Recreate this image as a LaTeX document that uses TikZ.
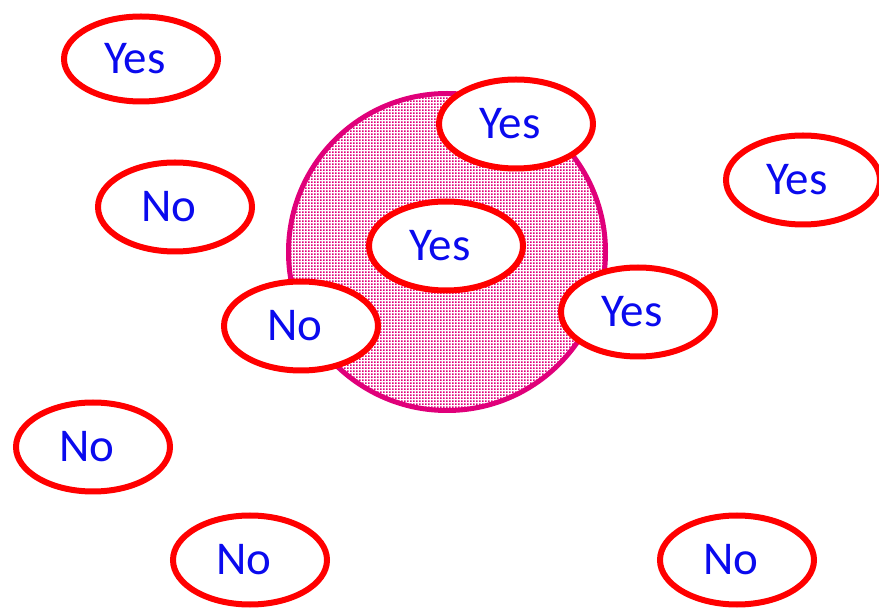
\documentclass[tikz,border=0pt]{standalone}
\usepackage{fontspec}
\setmainfont{Carlito}
\usetikzlibrary{shapes.geometric,patterns}
\definecolor{ringpink}{HTML}{E0007A}
\definecolor{ovalred}{HTML}{FF0000}
\definecolor{txtblue}{HTML}{0A0AEE}
\pgfdeclarepatternformonly{bigdots}{\pgfpointorigin}{\pgfqpoint{3.3pt}{3.3pt}}{\pgfqpoint{3.3pt}{3.3pt}}{%
  \pgfpathrectangle{\pgfpointorigin}{\pgfqpoint{2.1pt}{2.1pt}}\pgfusepath{fill}}
\newcommand{\ovaltxt}[1]{\hspace*{-12pt}#1}
\tikzset{
  oval/.style={ellipse, draw=ovalred, fill=white, line width=6pt,
    minimum width=154pt, minimum height=89pt, inner sep=0pt,
    text=txtblue, font=\fontsize{47}{54}\selectfont},
  ring/.style={circle, draw=ringpink, line width=5pt, pattern=bigdots,
    pattern color=ringpink, minimum size=317pt, inner sep=0pt}
}
\begin{document}
\begin{tikzpicture}[x=1pt,y=-1pt]
\useasboundingbox (0,0) rectangle (879,609);
\node[ring] (set) at (447,252) {};
\node[oval, minimum height=85pt] (y1) at (141,59) {\ovaltxt{Yes}};
\node[oval] (n1) at (175,207) {\ovaltxt{No}};
\node[oval] (y2) at (516,124) {\ovaltxt{Yes}};
\node[oval] (y3) at (803,180) {\ovaltxt{Yes}};
\node[oval] (y4) at (446,246) {\ovaltxt{Yes}};
\node[oval] (n2) at (301,326) {\ovaltxt{No}};
\node[oval] (y5) at (638,312) {\ovaltxt{Yes}};
\node[oval] (n3) at (93,447) {\ovaltxt{No}};
\node[oval] (n4) at (250,560) {\ovaltxt{No}};
\node[oval] (n5) at (737,560) {\ovaltxt{No}};
\end{tikzpicture}
\end{document}
